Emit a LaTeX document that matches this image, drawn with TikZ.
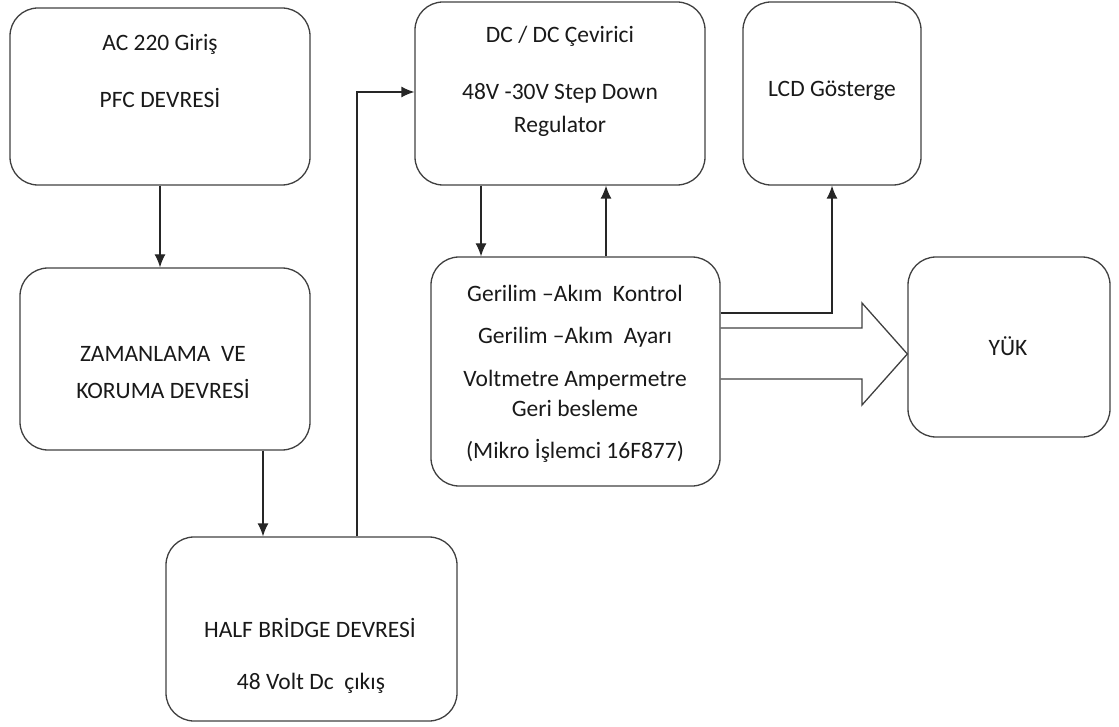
\documentclass[tikz,border=0pt]{standalone}
\usepackage{fontspec}
\setmainfont{Carlito}
\usetikzlibrary{arrows.meta,calc}
\begin{document}
\begin{tikzpicture}[x=1pt,y=-1pt,
  blk/.style={draw=black!75,line width=1.3pt,rounded corners=28pt,inner sep=0pt},
  lbl/.style={font=\fontsize{23.5}{27}\selectfont,text=black!90,inner sep=0pt,anchor=center},
  conn/.style={draw=black!85,line width=1.3pt,-{Latex[length=13pt,width=11pt]}}]
\useasboundingbox (0,0) rectangle (1119,727);
% blocks: corner coordinates in picture units
\node[blk,minimum width=300pt,minimum height=177pt] (pfc)  at (160,96.5) {};
\node[blk,minimum width=290pt,minimum height=182pt] (zam)  at (165,359) {};
\node[blk,minimum width=291pt,minimum height=184pt] (half) at (311.5,629) {};
\node[blk,minimum width=290pt,minimum height=183pt] (dcdc) at (560,93.5) {};
\node[blk,minimum width=178pt,minimum height=183pt] (lcd)  at (832,93.5) {};
\node[blk,minimum width=289pt,minimum height=229pt] (ctrl) at (575.5,371.5) {};
\node[blk,minimum width=202pt,minimum height=180pt] (load) at (1009,347) {};
% texts
\node[lbl] (t1) at (160,44) {AC 220 Giriş};
\node[lbl] (t2) at (160,98) {PFC DEVRESİ};
\node[lbl] (t3) at (163,354) {ZAMANLAMA\ \ VE};
\node[lbl] (t4) at (163,389) {KORUMA DEVRESİ};
\node[lbl] (t5) at (310,628) {HALF BRİDGE DEVRESİ};
\node[lbl] (t6) at (311,683) {48 Volt Dc\ \ çıkış};
\node[lbl] (t7) at (560,36) {DC / DC Çevirici};
\node[lbl] (t8) at (560,93) {48V -30V Step Down};
\node[lbl] (t9) at (560,126) {Regulator};
\node[lbl] (t10) at (832,91) {LCD Gösterge};
\node[lbl] (t11) at (575,293) {Gerilim –Akım\ \ Kontrol};
\node[lbl] (t12) at (575,337) {Gerilim –Akım\ \ Ayarı};
\node[lbl] (t13) at (575,380) {Voltmetre Ampermetre};
\node[lbl] (t14) at (575,408) {Geri besleme};
\node[lbl] (t15) at (575,451) {(Mikro İşlemci 16F877)};
\node[lbl] (t16) at (1008,346) {YÜK};
% connectors
\draw[conn] (pfc.south) -- (pfc.south |- zam.north);
\draw[conn] (263,0 |- zam.south) -- (263,0 |- half.north);
\draw[conn] (357,0 |- half.north) |- (dcdc.west |- 0,92);
\draw[conn] (481,0 |- dcdc.south) -- (481,0 |- ctrl.north);
\draw[conn] (606,0 |- ctrl.north) -- (606,0 |- dcdc.south);
\draw[conn] (ctrl.east |- 0,313) -| (lcd.south);
% wide output arrow towards the load
\draw[draw=black!75,line width=1.3pt,line join=miter]
  (ctrl.east |- 0,328) -- (862,328) -- (862,303) -- (load.west |- 0,354)
  -- (862,405) -- (862,379) -- (ctrl.east |- 0,379);
\end{tikzpicture}
\end{document}
